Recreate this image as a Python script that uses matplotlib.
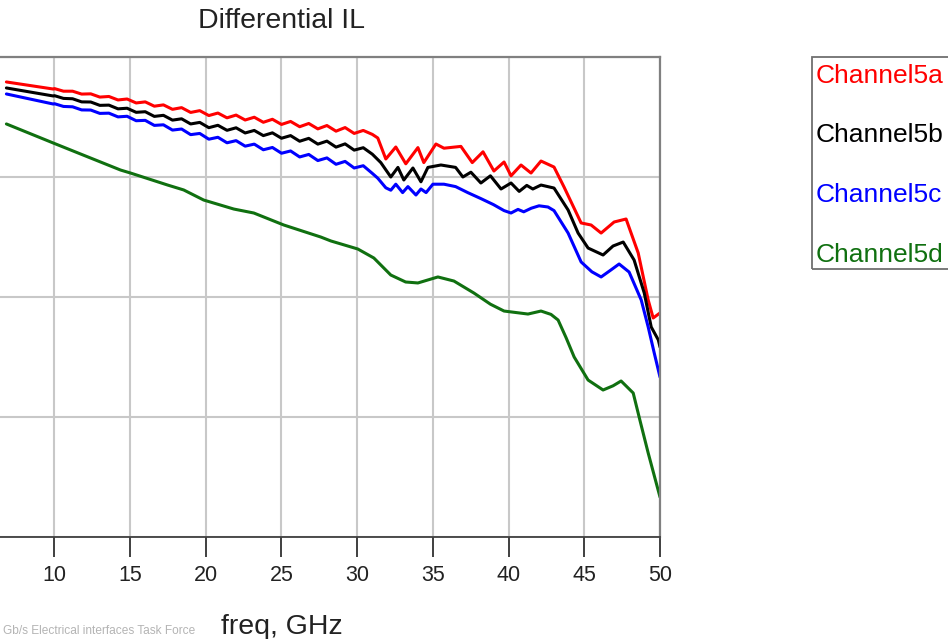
import matplotlib
matplotlib.use("Agg")
import matplotlib.pyplot as plt
from matplotlib.patches import Rectangle

plt.rcParams['font.family'] = ['Liberation Sans', 'DejaVu Sans']

# ---------------- data (freq in GHz, insertion loss in dB) ----------------
f_5a = [6.83, 9.93, 10.0, 10.6, 11.2, 11.8, 12.4, 13.0, 13.6, 14.2, 14.8, 15.4, 16.0, 16.6,
        17.2, 17.8, 18.4, 19.0, 19.6, 20.2, 20.8, 21.4, 22.0, 22.6, 23.2, 23.8, 24.4, 25.0,
        25.6, 26.2, 26.8, 27.4, 28.0, 28.6, 29.2, 29.8, 30.4, 31.0, 31.36, 31.89, 32.55,
        33.21, 34.01, 34.40, 35.20, 35.73, 36.85, 37.60, 38.31, 39.03, 39.70, 40.16, 40.82,
        41.48, 42.14, 43.00, 43.66, 44.79, 45.45, 46.11, 46.97, 47.76, 48.56, 49.22, 49.55, 50.0]
il_5a = [-2.08, -2.67, -2.63, -2.85, -2.85, -3.09, -3.07, -3.34, -3.29, -3.58, -3.50, -3.83, -3.74, -4.10,
         -3.99, -4.36, -4.22, -4.62, -4.47, -4.88, -4.67, -5.07, -4.84, -5.25, -5.02, -5.44, -5.19, -5.62,
         -5.37, -5.81, -5.54, -5.99, -5.71, -6.18, -5.88, -6.37, -6.12, -6.45, -6.75, -8.50, -7.50,
         -8.90, -7.55, -8.80, -7.25, -7.60, -7.45, -8.80, -7.90, -9.50, -8.75, -9.90, -9.00,
         -9.67, -8.67, -9.17, -10.83, -13.83, -14.00, -14.67, -13.75, -13.50, -16.33, -20.25, -21.75, -21.33]

f_5b = [6.83, 9.93, 10.0, 10.6, 11.2, 11.8, 12.4, 13.0, 13.6, 14.2, 14.8, 15.4, 16.0, 16.6,
        17.2, 17.8, 18.4, 19.0, 19.6, 20.2, 20.8, 21.4, 22.0, 22.6, 23.2, 23.8, 24.4, 25.0,
        25.6, 26.2, 26.8, 27.4, 28.0, 28.6, 29.2, 29.8, 30.4, 31.0, 31.56, 32.22, 32.69,
        33.08, 33.68, 34.21, 34.67, 35.53, 36.50, 36.98, 37.51, 38.17, 38.80, 39.50, 40.16,
        40.70, 41.20, 41.60, 42.14, 43.00, 43.93, 44.59, 45.25, 46.24, 46.90, 47.57, 48.29,
        48.96, 49.42, 49.89, 50.0]
il_5b = [-2.58, -3.25, -3.22, -3.45, -3.48, -3.74, -3.75, -4.03, -4.01, -4.32, -4.27, -4.61, -4.56, -4.95,
         -4.86, -5.26, -5.15, -5.58, -5.45, -5.89, -5.69, -6.11, -5.90, -6.33, -6.12, -6.55, -6.32, -6.77,
         -6.55, -7.02, -6.78, -7.26, -7.01, -7.51, -7.24, -7.76, -7.56, -8.10, -8.80, -10.00, -9.20,
         -10.25, -9.25, -10.40, -9.20, -9.00, -9.20, -10.00, -9.60, -10.50, -9.90, -11.00, -10.50,
         -11.20, -10.70, -11.00, -10.67, -10.92, -12.75, -14.67, -15.92, -16.50, -15.75, -15.42, -16.92,
         -19.67, -22.50, -23.58, -24.17]

f_5c = [6.83, 9.93, 10.0, 10.6, 11.2, 11.8, 12.4, 13.0, 13.6, 14.2, 14.8, 15.4, 16.0, 16.6,
        17.2, 17.8, 18.4, 19.0, 19.6, 20.2, 20.8, 21.4, 22.0, 22.6, 23.2, 23.8, 24.4, 25.0,
        25.6, 26.2, 26.8, 27.4, 28.0, 28.6, 29.2, 29.8, 30.4, 31.0, 31.36, 31.89, 32.22,
        32.55, 33.00, 33.35, 33.88, 34.21, 34.55, 35.00, 35.73, 36.50, 37.30, 38.17, 39.00,
        39.70, 40.16, 40.62, 41.00, 41.50, 42.01, 42.60, 43.00, 43.93, 44.79, 45.50, 46.11,
        46.70, 47.30, 47.96, 48.76, 49.22, 49.62, 50.0]
il_5c = [-3.08, -3.92, -3.89, -4.12, -4.15, -4.41, -4.42, -4.70, -4.68, -4.99, -4.94, -5.31, -5.28, -5.70,
         -5.65, -6.09, -6.00, -6.47, -6.37, -6.85, -6.69, -7.15, -6.97, -7.43, -7.26, -7.73, -7.54, -8.02,
         -7.83, -8.33, -8.12, -8.63, -8.41, -8.94, -8.70, -9.25, -9.06, -9.70, -10.10, -10.90, -11.10,
         -10.60, -11.30, -10.80, -11.50, -11.00, -11.30, -10.60, -10.60, -10.80, -11.30, -11.80, -12.30,
         -12.80, -13.00, -12.70, -12.90, -12.60, -12.40, -12.50, -12.80, -14.67, -17.08, -17.90, -18.33,
         -17.80, -17.25, -17.92, -20.25, -22.50, -24.67, -26.67]

f_5d = [6.83, 9.93, 11.90, 14.37, 15.03, 17.48, 18.54, 19.86, 21.85, 23.17, 25.15, 27.59,
        28.26, 30.04, 31.10, 32.22, 33.20, 34.01, 35.33, 36.39, 37.71, 38.80, 39.70, 41.28,
        42.14, 42.80, 43.27, 43.80, 44.33, 45.25, 46.24, 46.90, 47.43, 48.23, 48.70, 49.22, 50.0]
il_5d = [-5.58, -7.17, -8.17, -9.42, -9.67, -10.67, -11.08, -11.92, -12.67, -13.00, -14.00, -15.00,
         -15.33, -16.00, -16.75, -18.17, -18.75, -18.83, -18.33, -18.67, -19.67, -20.60, -21.17, -21.42,
         -21.17, -21.45, -21.92, -23.40, -25.00, -26.92, -27.75, -27.40, -27.00, -28.00, -30.40, -33.00, -36.67]

series_names = ["Channel5a", "Channel5b", "Channel5c", "Channel5d"]
series_colors = ["#ff0000", "#000000", "#0000ff", "#107010"]
x_ticks = [10, 15, 20, 25, 30, 35, 40, 45, 50]
y_ticks = [-40, -30, -20, -10, 0]

# ---------------- figure ----------------
W, H = 948, 639
fig = plt.figure(figsize=(W / 100, H / 100), dpi=100)
ax_l, ax_r, ax_t, ax_b = -97, 660, 57, 537
ax = fig.add_axes([ax_l / W, (H - ax_b) / H, (ax_r - ax_l) / W, (ax_b - ax_t) / H])

for fx, fy, c in zip([f_5a, f_5b, f_5c, f_5d], [il_5a, il_5b, il_5c, il_5d], series_colors):
    ax.plot(fx, fy, color=c, lw=2.2, solid_joinstyle='round', solid_capstyle='round')

ax.set_xlim(0, 50)
ax.set_ylim(-40, 0)
ax.set_xticks(x_ticks)
ax.set_yticks(y_ticks)
ax.grid(True, color="#c8c8c8", lw=1.5)
ax.set_axisbelow(True)
ax.tick_params(axis='y', left=False, labelleft=False)
ax.tick_params(axis='x', direction='out', length=14.5, width=1.3, color="#303030",
               labelsize=15.5, pad=6, labelcolor="#222222")
for s in ['left', 'top', 'right']:
    ax.spines[s].set_color("#808080")
    ax.spines[s].set_linewidth(1.6)
ax.spines['bottom'].set_color("#404040")
ax.spines['bottom'].set_linewidth(1.3)

# title and axis label (centred on the full axes)
cx = (ax_l + ax_r) / 2 / W
fig.text(cx, (H - 28) / H, "Differential IL", ha='center', va='baseline', fontsize=20.5, color="#222222")
fig.text(cx, (H - 634) / H, "freq, GHz", ha='center', va='baseline', fontsize=20.5, color="#222222")
fig.text(195 / W, (H - 634) / H, "Gb/s Electrical interfaces Task Force", ha='right', va='baseline',
         fontsize=8.6, color="#b4b4b4")

# legend box with coloured names
fig.patches.append(Rectangle((812 / W, (H - 269) / H), 200 / W, 212 / H, transform=fig.transFigure,
                             fill=False, edgecolor="#707070", lw=1.3))
baselines = [83, 142, 202, 262]
for name, c, b in zip(series_names, series_colors, baselines):
    fig.text(816 / W, (H - b) / H, name, ha='left', va='baseline', fontsize=19, color=c)

fig.savefig("out.png", dpi=100)
